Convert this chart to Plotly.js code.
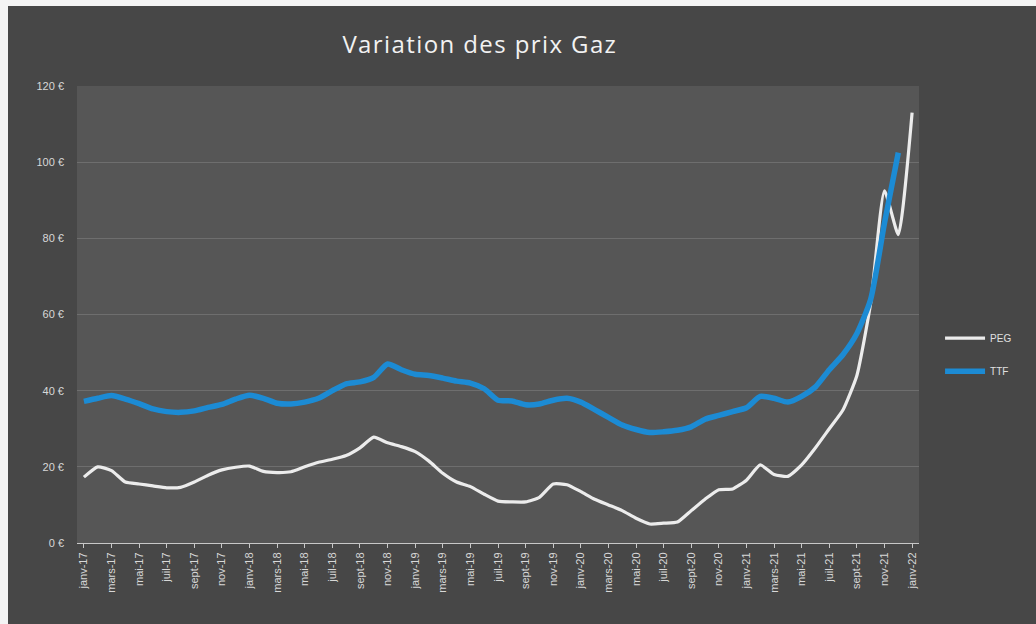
<!DOCTYPE html>
<html>
<head>
<meta charset="utf-8">
<script src="https://cdn.plot.ly/plotly-3.0.1.min.js"></script>
<style>
  html, body { margin: 0; padding: 0; background: #f4f4f4; width: 1036px; height: 624px; overflow: hidden; }
  #chart { position: absolute; left: 8px; top: 6px; width: 1028px; height: 618px; }
  .gtitle { letter-spacing: 1.4px; }
</style>
</head>
<body>
<div id="chart"></div>
<script>
// Monthly categories, janv-17 .. janv-22
const months = [
  "janv-17","févr-17","mars-17","avr-17","mai-17","juin-17","juil-17","août-17","sept-17","oct-17","nov-17","déc-17",
  "janv-18","févr-18","mars-18","avr-18","mai-18","juin-18","juil-18","août-18","sept-18","oct-18","nov-18","déc-18",
  "janv-19","févr-19","mars-19","avr-19","mai-19","juin-19","juil-19","août-19","sept-19","oct-19","nov-19","déc-19",
  "janv-20","févr-20","mars-20","avr-20","mai-20","juin-20","juil-20","août-20","sept-20","oct-20","nov-20","déc-20",
  "janv-21","févr-21","mars-21","avr-21","mai-21","juin-21","juil-21","août-21","sept-21","oct-21","nov-21","déc-21",
  "janv-22"
];

// Tick labels shown on the axis (every two months)
const tickLabels = [
  "janv-17","mars-17","mai-17","juil-17","sept-17","nov-17",
  "janv-18","mars-18","mai-18","juil-18","sept-18","nov-18",
  "janv-19","mars-19","mai-19","juil-19","sept-19","nov-19",
  "janv-20","mars-20","mai-20","juil-20","sept-20","nov-20",
  "janv-21","mars-21","mai-21","juil-21","sept-21","nov-21",
  "janv-22"
];

// PEG (€/MWh), janv-17 .. janv-22
const pegValues = [
  17.3, 20.0, 19.0, 16.0, 15.5, 15.0, 14.5, 14.6, 16.0, 17.8, 19.2, 19.9,
  20.2, 18.8, 18.5, 18.7, 20.0, 21.2, 22.0, 23.0, 25.0, 27.8, 26.3, 25.3,
  24.0, 21.5, 18.3, 16.0, 14.8, 12.8, 11.0, 10.8, 10.8, 12.0, 15.5, 15.3,
  13.5, 11.5, 10.0, 8.5, 6.5, 5.0, 5.2, 5.5, 8.5, 11.5, 14.0, 14.2,
  16.5, 20.5, 18.0, 17.5, 20.5, 25.0, 30.0, 35.0, 44.0, 63.0, 92.5, 81.0,
  113.0
];

// TTF (€/MWh), janv-17 .. déc-21
const ttfValues = [
  37.2, 38.0, 38.7, 37.8, 36.6, 35.2, 34.5, 34.3, 34.7, 35.6, 36.4, 37.8,
  38.8, 38.0, 36.7, 36.5, 37.0, 38.0, 40.0, 41.8, 42.3, 43.5, 47.0, 45.5,
  44.3, 44.0, 43.3, 42.5, 42.0, 40.5, 37.5, 37.3, 36.3, 36.5, 37.5, 38.0,
  37.0, 35.0, 33.0, 31.0, 29.8, 29.0, 29.2, 29.6, 30.5, 32.5, 33.5, 34.5,
  35.5, 38.5, 38.0, 37.0, 38.5, 41.0, 45.5, 49.5, 55.0, 64.0, 84.0, 102.5
];

const seriesNames = ["PEG", "TTF"];
const yTicks = [0, 20, 40, 60, 80, 100, 120];

const traces = [
  {
    x: months, y: pegValues, name: seriesNames[0], type: "scatter", mode: "lines",
    legendgroup: "a",
    line: { color: "#ececec", width: 3.2, shape: "spline", smoothing: 0.5 }
  },
  {
    x: months.slice(0, ttfValues.length), y: ttfValues, name: seriesNames[1], type: "scatter", mode: "lines",
    legendgroup: "b",
    line: { color: "#1c8bd4", width: 5.5, shape: "spline", smoothing: 0.6 }
  }
];

const layout = {
  width: 1028, height: 618,
  paper_bgcolor: "#474747",
  plot_bgcolor: "#565656",
  margin: { l: 69, r: 117, t: 80, b: 81 },
  title: {
    text: "Variation des prix Gaz",
    font: { family: "Open Sans, Liberation Sans, sans-serif", size: 24, color: "#f2f2f2" },
    xref: "container", x: 0.459, xanchor: "center",
    yref: "container", y: 0.937, yanchor: "middle"
  },
  showlegend: true,
  legend: {
    x: 1.025, xanchor: "left", y: 0.48, yanchor: "top",
    bgcolor: "rgba(0,0,0,0)",
    font: { family: "Liberation Sans, sans-serif", size: 10, color: "#e0e0e0" },
    tracegroupgap: 14,
    itemwidth: 40
  },
  xaxis: {
    type: "category",
    range: [-0.5, months.length - 0.5],
    tickmode: "array",
    tickvals: tickLabels,
    ticktext: tickLabels,
    tickangle: -90,
    tickfont: { family: "Liberation Sans, sans-serif", size: 11, color: "#d8d8d8" },
    showgrid: false,
    showline: true, linecolor: "#c8c8c8", linewidth: 1,
    ticks: "outside", ticklen: 4, tickcolor: "#c8c8c8",
    zeroline: false,
    fixedrange: true
  },
  yaxis: {
    range: [0, 120],
    tickmode: "array",
    tickvals: yTicks,
    ticktext: yTicks.map(v => v + " €"),
    tickfont: { family: "Liberation Sans, sans-serif", size: 11, color: "#d8d8d8" },
    ticklabelstandoff: 12,
    showgrid: true, gridcolor: "#6e6e6e", gridwidth: 1,
    zeroline: false,
    showline: false,
    ticks: "",
    fixedrange: true
  }
};

Plotly.newPlot("chart", traces, layout, { displayModeBar: false, staticPlot: true });
</script>
</body>
</html>
